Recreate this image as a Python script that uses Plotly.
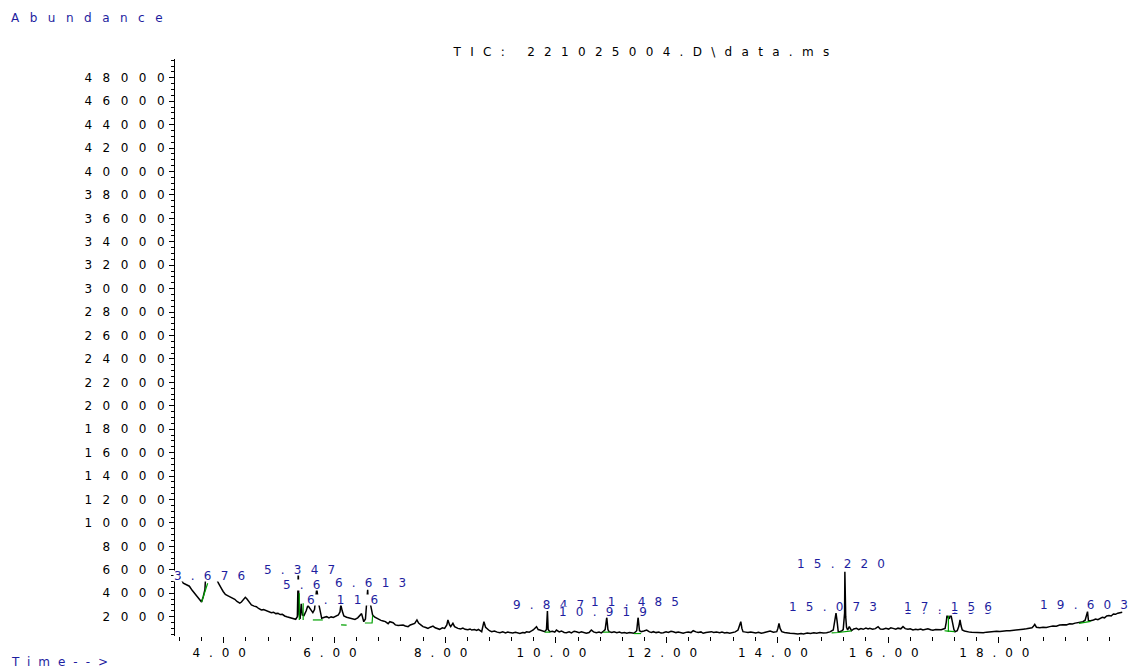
import plotly.graph_objects as go

# ---------------- data ----------------
t1 = [3.17, 3.22, 3.27, 3.33, 3.38, 3.43, 3.47, 3.51, 3.55, 3.58, 3.60, 3.63, 3.66, 3.676, 3.70, 3.75, 3.80, 3.86, 3.90, 3.93,
      3.96, 3.99, 4.03, 4.07, 4.11, 4.15, 4.20, 4.24, 4.29, 4.32, 4.35, 4.39, 4.42, 4.45, 4.50, 4.55, 4.59, 4.63, 4.68, 4.72,
      4.77, 4.81, 4.86, 4.90, 4.94, 4.98, 5.02, 5.06, 5.10, 5.14, 5.18, 5.22, 5.26, 5.30]
v1 = [5600, 5300, 4850, 4750, 4600, 4250, 4000, 3850, 3600, 3400, 3250, 3700, 4300, 5600, 5500, 5300, 5250, 5400, 4900, 4600,
      4400, 4150, 3900, 3800, 3700, 3650, 3480, 3300, 3150, 3250, 3420, 3650, 3500, 3280, 3000, 2900, 2850, 2700, 2570, 2600,
      2500, 2420, 2340, 2380, 2260, 2280, 2180, 2200, 2060, 2000, 1950, 1870, 1800, 1780]

t2 = [5.33, 5.347, 5.36, 5.38, 5.40, 5.42, 5.45, 5.49, 5.52, 5.55, 5.57, 5.61, 5.64, 5.68, 5.72, 5.75, 5.77, 5.82, 5.86, 5.90,
      5.94, 5.98, 6.03, 6.07, 6.10, 6.116, 6.14, 6.17, 6.22, 6.28, 6.33, 6.37, 6.42, 6.46, 6.49, 6.53, 6.56, 6.60, 6.613, 6.64,
      6.67, 6.69, 6.73, 6.76, 6.80, 6.84, 6.88, 6.92, 6.97, 7.00]
v2 = [2000, 6000, 2200, 1800, 3100, 2140, 2100, 2500, 2950, 2750, 2710, 2340, 2600, 4400, 3000, 2200, 1860, 1950, 2000, 1900,
      1980, 1940, 2050, 2140, 2400, 3000, 2500, 2060, 1950, 1860, 1800, 1770, 1900, 2140, 2260, 1570, 1800, 4300, 3000, 3300,
      2400, 2140, 1950, 1860, 1750, 1680, 1630, 1580, 1400, 1570]

t3 = [7.06, 7.10, 7.15, 7.20, 7.24, 7.28, 7.33, 7.37, 7.41, 7.45, 7.49, 7.52, 7.56, 7.60, 7.65, 7.69, 7.73, 7.78, 7.82, 7.86,
      7.90, 7.95, 7.99, 8.03, 8.05, 8.08, 8.10, 8.14, 8.17, 8.23, 8.28, 8.32, 8.36, 8.41, 8.45, 8.48, 8.53, 8.57, 8.60, 8.66,
      8.70, 8.73, 8.75, 8.80, 8.84, 8.89, 8.94, 8.99]
v3 = [1480, 1300, 1250, 1300, 1290, 1200, 1150, 1290, 1350, 1430, 1720, 1450, 1300, 1150, 1080, 1000, 1100, 1200, 1050, 980,
      920, 1050, 1000, 1300, 1720, 1300, 1150, 1430, 1150, 1000, 950, 1020, 920, 880, 950, 860, 900, 830, 920, 720,
      1570, 1100, 1000, 800, 720, 780, 680, 630]

t4 = [9.04, 9.09, 9.13, 9.17, 9.22, 9.27, 9.31, 9.35, 9.40, 9.44, 9.47, 9.52, 9.56, 9.59, 9.65, 9.68, 9.71, 9.76, 9.80, 9.83,
      9.847, 9.86, 9.89, 9.94, 9.98, 10.01, 10.06, 10.10, 10.15, 10.19, 10.24, 10.28, 10.33, 10.37, 10.42, 10.46, 10.51, 10.55,
      10.60, 10.64, 10.68, 10.73, 10.78, 10.82, 10.85, 10.89, 10.919, 10.94, 10.96]
v4 = [700, 620, 680, 630, 600, 660, 590, 570, 650, 620, 720, 680, 780, 860, 1150, 900, 860, 780, 720, 900,
      2480, 900, 720, 760, 680, 860, 700, 780, 650, 630, 700, 620, 760, 720, 640, 700, 600, 580,
      650, 860, 700, 630, 680, 620, 720, 900, 1950, 900, 720]

t5 = [11.01, 11.05, 11.10, 11.15, 11.19, 11.24, 11.28, 11.33, 11.37, 11.41, 11.46, 11.485, 11.51, 11.54, 11.59, 11.64, 11.69,
      11.73, 11.76, 11.81, 11.86, 11.90, 11.94, 11.99, 12.03, 12.08, 12.12, 12.17, 12.21, 12.26, 12.30, 12.35, 12.39, 12.44,
      12.48, 12.53, 12.57, 12.62, 12.66, 12.71, 12.76, 12.81, 12.85, 12.90, 12.96]
v5 = [650, 700, 630, 680, 600, 640, 580, 650, 600, 580, 800, 1950, 800, 720, 780, 860, 700,
      650, 720, 640, 690, 600, 630, 700, 650, 760, 720, 640, 680, 620, 580, 660, 700, 640,
      800, 700, 650, 700, 580, 640, 700, 720, 650, 700, 630]

t6 = [13.00, 13.05, 13.09, 13.14, 13.19, 13.24, 13.29, 13.32, 13.34, 13.36, 13.38, 13.43, 13.47, 13.52, 13.56, 13.61, 13.66,
      13.71, 13.75, 13.80, 13.87, 13.93, 13.99, 14.01, 14.03, 14.05, 14.08, 14.13, 14.18, 14.23, 14.30, 14.37, 14.43, 14.47,
      14.54, 14.60, 14.66, 14.71, 14.77, 14.83, 14.89, 14.95]
v6 = [680, 600, 650, 580, 640, 700, 860, 1200, 1570, 1000, 720, 680, 640, 700, 630, 600, 660,
      580, 620, 700, 770, 680, 720, 1000, 1430, 1000, 720, 650, 600, 580, 560, 520, 560, 530,
      600, 560, 620, 580, 640, 600, 630, 700]

t7 = [15.01, 15.04, 15.06, 15.08, 15.10, 15.13, 15.16, 15.19, 15.205, 15.215, 15.22, 15.225, 15.235, 15.25, 15.27, 15.30,
      15.32, 15.34, 15.38, 15.43, 15.47, 15.51, 15.55, 15.60, 15.64, 15.67, 15.72, 15.77, 15.82, 15.86, 15.91, 15.96, 16.01,
      16.05, 16.09, 16.14, 16.18, 16.23, 16.27, 16.31, 16.36, 16.40, 16.45, 16.50, 16.54, 16.59, 16.63, 16.68, 16.72, 16.77,
      16.81, 16.86, 16.91, 16.96, 17.00]
v7 = [860, 1600, 2300, 1600, 720, 740, 770, 900, 2000, 2300, 5840, 2300, 2000, 1100, 860, 1150,
      950, 800, 950, 1000, 900, 980, 920, 1020, 950, 1000, 920, 980, 1150, 950, 920, 1000, 940,
      1050, 1000, 930, 1020, 960, 1150, 980, 920, 960, 860, 920, 880, 950, 860, 900, 960, 880,
      840, 900, 860, 880, 950]

t8 = [17.03, 17.05, 17.07, 17.09, 17.11, 17.13, 17.15, 17.17, 17.19, 17.21, 17.25, 17.28, 17.30, 17.32, 17.34, 17.38, 17.42,
      17.47, 17.51, 17.56, 17.60, 17.66, 17.72, 17.78, 17.84, 17.90, 17.96, 18.02, 18.08, 18.14, 18.20, 18.26, 18.32, 18.38,
      18.44, 18.50, 18.56, 18.60, 18.63, 18.65, 18.68, 18.74, 18.80, 18.86, 18.92, 18.98]
v8 = [1000, 1500, 2300, 1900, 1860, 2300, 1700, 1150, 900, 720, 800, 1200, 1720, 1200, 860, 780, 720,
      680, 660, 640, 630, 650, 620, 680, 720, 700, 760, 740, 780, 800, 790, 840, 860, 880,
      930, 960, 1000, 1050, 1200, 1340, 1100, 1050, 1100, 1080, 1150, 1200]

t9 = [19.04, 19.10, 19.16, 19.22, 19.28, 19.33, 19.38, 19.43, 19.48, 19.52, 19.56, 19.58, 19.603, 19.62, 19.66, 19.71,
      19.75, 19.79, 19.83, 19.87, 19.91, 19.95, 19.99, 20.03, 20.07, 20.11, 20.15, 20.19, 20.23]
v9 = [1180, 1290, 1320, 1300, 1400, 1380, 1450, 1480, 1520, 1570, 1700, 2000, 2430, 1650, 1650, 1720,
      1800, 1750, 1860, 1950, 1900, 2060, 2100, 2060, 2230, 2200, 2300, 2340, 2380]

# integration baselines (green), segments separated by None
base_t = [3.60, 3.71, None, 5.365, 5.365, None, 5.435, 5.435, None, 5.61, 5.79, None, 6.12, 6.22, None,
          6.55, 6.68, 6.69, None, 9.80, 9.90, None, 10.85, 10.97, None, 11.41, 11.54, None,
          14.98, 15.10, 15.34, None, 17.02, 17.09, 17.09, None, 17.09, 17.20, None, 19.45, 19.66]
base_v = [3250, 4850, None, 4000, 1720, None, 3150, 1720, None, 1720, 1720, None, 1300, 1280, None,
          1460, 1460, 2100, None, 680, 680, None, 680, 680, None, 560, 560, None,
          620, 650, 790, None, 800, 760, 2100, None, 760, 720, None, 1420, 1600]

# peak labels: text, anchor time, label height, anchor, opaque background?
peak_text = ["17.195", "3.676", "5.347", "5.6", "6.613", "6.116", "9.847", "11.485", "10.919",
             "15.220", "15.073", "17.156", "19.603"]
peak_x = [17.17, 3.83, 5.455, 5.05, 6.73, 6.223, 9.95, 11.51, 10.94, 15.24, 15.08, 17.16, 19.62]
peak_y = [2560, 5514, 5984, 4703, 4874, 3423, 2996, 3252, 2399, 6496, 2825, 2825, 2996]
peak_anchor = ["center", "center", "center", "left", "center", "center", "center", "center", "center",
               "center", "center", "center", "center"]
peak_bg = [True, True, True, True, True, True, True, True, True, True, False, True, True]

x_tick_vals = [4, 6, 8, 10, 12, 14, 16, 18]
x_tick_text = ["4.00", "6.00", "8.00", "10.00", "12.00", "14.00", "16.00", "18.00"]
y_tick_vals = [2000, 4000, 6000, 8000, 10000, 12000, 14000, 16000, 18000, 20000, 22000, 24000,
               26000, 28000, 30000, 32000, 34000, 36000, 38000, 40000, 42000, 44000, 46000, 48000]
y_tick_text = [str(v) for v in y_tick_vals]

title_text = "TIC: 221025004.D\\data.ms"

# ---------------- figure ----------------
ret_time = t1 + t2 + t3 + t4 + t5 + t6 + t7 + t8 + t9
abundance = v1 + v2 + v3 + v4 + v5 + v6 + v7 + v8 + v9
assert len(ret_time) == len(abundance)

BLUE = "#1e1ea0"
FONT = "DejaVu Sans, Liberation Sans, Arial, sans-serif"

fig = go.Figure()
fig.add_trace(go.Scatter(x=ret_time, y=abundance, mode="lines",
                         line=dict(color="black", width=1.5), hoverinfo="skip"))
fig.add_trace(go.Scatter(x=base_t, y=base_v, mode="lines", connectgaps=False,
                         line=dict(color="#00a000", width=1.2), hoverinfo="skip"))

annotations = []
for txt, xx, yy, anc, bg in zip(peak_text, peak_x, peak_y, peak_anchor, peak_bg):
    annotations.append(dict(text=txt, x=xx, y=yy, xref="x", yref="y", showarrow=False,
                            xanchor=anc, yanchor="middle", font=dict(color=BLUE), height=10,
                            bgcolor="white" if bg else "rgba(0,0,0,0)", borderpad=0))
annotations.append(dict(text="Abundance", x=-0.175, y=1.071, xref="paper", yref="paper",
                        showarrow=False, xanchor="left", yanchor="middle", font=dict(color=BLUE)))
annotations.append(dict(text="Time-->", x=-0.175, y=-0.045, xref="paper", yref="paper",
                        showarrow=False, xanchor="left", yanchor="middle", font=dict(color=BLUE)))

fig.update_layout(
    width=1129, height=670,
    margin=dict(l=175, r=4, t=59, b=34),
    paper_bgcolor="white", plot_bgcolor="white",
    showlegend=False,
    font=dict(family=FONT, size=12, color="black"),
    title=dict(text=title_text, x=0.5722, xanchor="center", y=0.9224, yanchor="middle",
               font=dict(family=FONT, size=12, color="black")),
    annotations=annotations,
)
fig.update_xaxes(range=[3.12, 20.28], showgrid=False, zeroline=False, showline=False,
                 tickmode="array", tickvals=x_tick_vals, ticktext=x_tick_text,
                 ticks="outside", ticklen=6, tickwidth=1, tickcolor="black",
                 minor=dict(tickmode="linear", tick0=0, dtick=0.4, ticks="outside", ticklen=4,
                            tickwidth=1, tickcolor="black", showgrid=False))
fig.update_yaxes(range=[350, 49600], showgrid=False, zeroline=False,
                 showline=True, linecolor="black", linewidth=1.5,
                 tickmode="array", tickvals=y_tick_vals, ticktext=y_tick_text,
                 ticks="outside", ticklen=5, tickwidth=1, tickcolor="black",
                 ticklabelstandoff=-9,
                 minor=dict(tickmode="linear", tick0=0, dtick=500, ticks="outside", ticklen=3,
                            tickwidth=1, tickcolor="black", showgrid=False))

post = """
var gd = document.getElementById('{plot_id}');
if (gd && !window.__lsDone) {
  window.__lsDone = true;
  var st = document.createElement('style');
  st.textContent = 'svg text{letter-spacing:9px;}' +
    '.ytick text{letter-spacing:10.5px;}' +
    '.xtick text{letter-spacing:8.9px;}' +
    '.gtitle{letter-spacing:9.3px;}' +
    '.annotation-text{letter-spacing:9.2px;}' +
    'text[data-unformatted="Abundance"]{letter-spacing:10.5px;}' +
    'text[data-unformatted="Time-->"]{letter-spacing:8px;}';
  document.head.appendChild(st);
  var lay = JSON.parse(JSON.stringify(gd.layout));
  lay.font.size = lay.font.size + 0.01;
  if (lay.title && lay.title.font) { lay.title.font.size = lay.title.font.size + 0.01; }
  Plotly.newPlot(gd, gd.data, lay, {displayModeBar: false, staticPlot: true});
}
"""

fig.write_html("out.html", post_script=post, config={"displayModeBar": False})
